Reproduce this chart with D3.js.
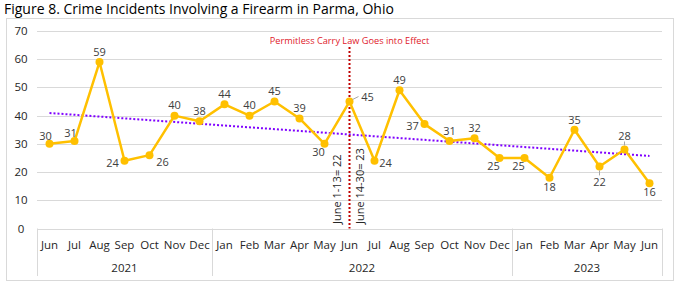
<!DOCTYPE html>
<html>
<head>
<meta charset="utf-8">
<script src="https://cdn.jsdelivr.net/npm/d3@7"></script>
<style>
	body { margin: 0; background: #fff; }
	text { font-family: "Segoe UI", "Open Sans", sans-serif; }
</style>
</head>
<body>
<div id="chart"></div>
<script>
const width = 679, height = 285;

// data
const months = ["Jun", "Jul", "Aug", "Sep", "Oct", "Nov", "Dec",
	"Jan", "Feb", "Mar", "Apr", "May", "Jun", "Jul", "Aug", "Sep", "Oct", "Nov", "Dec",
	"Jan", "Feb", "Mar", "Apr", "May", "Jun"];
const years = ["2021", "2022", "2023"];
const monthsPerYear = [7, 12, 6];
const incidents = [30, 31, 59, 24, 26, 40, 38, 44, 40, 45, 39, 30, 45, 24, 49, 37, 31, 32, 25, 25, 18, 35, 22, 28, 16];
const yTicks = [0, 10, 20, 30, 40, 50, 60, 70];
const lawMonth = 12;
const lawText = "Permitless Carry Law Goes into Effect";
const splitLabels = ["June 1-13= 22", "June 14-30= 23"];

// where each value label sits relative to its point
const labelPlace = ["tl", "tl", "t", "l", "br", "t", "t", "t", "t", "t", "t", "bl", "rl", "r", "t", "l", "t", "t",
	"bl", "bl", "b", "t", "bb", "tt", "b"];
const offsets = {
	t: [0, -10], tl: [-4, -8], b: [0, 9], bl: [-6, 8], l: [-12, 2], r: [11, 2],
	br: [13, 7], rl: [18, -4], bb: [0, 16], tt: [0, -13]
};

const svg = d3.select("#chart")
	.append("svg")
	.attr("width", width)
	.attr("height", height);

// title
svg.append("text")
	.attr("x", 4)
	.attr("y", 14)
	.attr("font-size", 14)
	.attr("fill", "#000")
	.text("Figure 8. Crime Incidents Involving a Firearm in Parma, Ohio");

// outer frame
svg.append("rect")
	.attr("x", 6.5)
	.attr("y", 18.5)
	.attr("width", 667)
	.attr("height", 262)
	.attr("fill", "none")
	.attr("stroke", "#d9d9d9");

const x = d3.scaleBand()
	.domain(d3.range(months.length))
	.range([37, 662]);

const y = d3.scaleLinear()
	.domain([0, 70])
	.range([228.5, 31]);

const cx = (i) => x(i) + x.bandwidth() / 2;

// gridlines
svg.selectAll(".grid")
	.data(yTicks)
	.enter()
	.append("line")
	.classed("grid", true)
	.attr("x1", 37)
	.attr("x2", 662)
	.attr("y1", (d) => Math.round(y(d)) + 0.5)
	.attr("y2", (d) => Math.round(y(d)) + 0.5)
	.attr("stroke", "#d9d9d9");

// y tick labels
svg.selectAll(".ylab")
	.data(yTicks)
	.enter()
	.append("text")
	.classed("ylab", true)
	.attr("x", 21)
	.attr("y", (d) => y(d))
	.attr("dy", "0.35em")
	.attr("text-anchor", "middle")
	.attr("font-size", 11.5)
	.attr("fill", "#262626")
	.text((d) => d);

// category axis: month row and year row
const axis_g = svg.append("g");
axis_g.selectAll(".mlab")
	.data(months)
	.enter()
	.append("text")
	.classed("mlab", true)
	.attr("x", (d, i) => cx(i))
	.attr("y", 245)
	.attr("dy", "0.35em")
	.attr("text-anchor", "middle")
	.attr("font-size", 11.5)
	.attr("fill", "#262626")
	.text((d) => d);

const yearStart = d3.cumsum([0].concat(monthsPerYear));
axis_g.selectAll(".ylabel")
	.data(years)
	.enter()
	.append("text")
	.classed("ylabel", true)
	.attr("x", (d, i) => (x(yearStart[i]) + x(yearStart[i + 1] - 1) + x.bandwidth()) / 2)
	.attr("y", 268)
	.attr("dy", "0.35em")
	.attr("text-anchor", "middle")
	.attr("font-size", 11.5)
	.attr("fill", "#262626")
	.text((d) => d);

// separators between years
axis_g.selectAll(".sep")
	.data(yearStart)
	.enter()
	.append("line")
	.classed("sep", true)
	.attr("x1", (d) => (d < months.length ? x(d) : x(months.length - 1) + x.bandwidth()) + 0.5)
	.attr("x2", (d) => (d < months.length ? x(d) : x(months.length - 1) + x.bandwidth()) + 0.5)
	.attr("y1", y(0))
	.attr("y2", 276)
	.attr("stroke", "#d9d9d9");

// trend line (least squares over the series)
const idx = d3.range(incidents.length);
const mx = d3.mean(idx), my = d3.mean(incidents);
const slope = d3.sum(idx, (i) => (i - mx) * (incidents[i] - my)) / d3.sum(idx, (i) => (i - mx) * (i - mx));
const icpt = my - slope * mx;
svg.append("line")
	.attr("x1", cx(0))
	.attr("y1", y(icpt))
	.attr("x2", cx(incidents.length - 1))
	.attr("y2", y(icpt + slope * (incidents.length - 1)))
	.attr("stroke", "#7f00ff")
	.attr("stroke-width", 2)
	.attr("stroke-dasharray", "2,2");

// law change marker
svg.append("line")
	.attr("x1", cx(lawMonth))
	.attr("x2", cx(lawMonth))
	.attr("y1", 47)
	.attr("y2", y(0))
	.attr("stroke", "#c00000")
	.attr("stroke-width", 2)
	.attr("stroke-dasharray", "2,2");

svg.append("text")
	.attr("x", cx(lawMonth))
	.attr("y", 41)
	.attr("dy", "0.35em")
	.attr("text-anchor", "middle")
	.attr("font-size", 9.2)
	.attr("fill", "#e0202a")
	.text(lawText);

svg.selectAll(".split")
	.data(splitLabels)
	.enter()
	.append("text")
	.classed("split", true)
	.attr("transform", (d, i) => `translate(${cx(lawMonth) + (i === 0 ? -12 : 11)},224) rotate(-90)`)
	.attr("dy", "0.35em")
	.attr("font-size", 11)
	.attr("fill", "#262626")
	.text((d) => d);

// data line
svg.append("path")
	.datum(incidents)
	.attr("d", d3.line().x((d, i) => cx(i)).y((d) => y(d)))
	.attr("fill", "none")
	.attr("stroke", "#ffc000")
	.attr("stroke-width", 2.5)
	.attr("stroke-linejoin", "round");

svg.selectAll(".pt")
	.data(incidents)
	.enter()
	.append("circle")
	.classed("pt", true)
	.attr("cx", (d, i) => cx(i))
	.attr("cy", (d) => y(d))
	.attr("r", 4)
	.attr("fill", "#ffc000");

// leader lines for labels pushed away from their points
const leaders = { rl: [[3, -2], [9, -5]], bb: [[0, 4], [0, 9]], tt: [[0, -4], [0, -8]] };
incidents.forEach((d, i) => {
	const l = leaders[labelPlace[i]];
	if (!l) return;
	svg.append("polyline")
		.attr("points", l.map((p) => [cx(i) + p[0], y(d) + p[1]].join(",")).join(" "))
		.attr("fill", "none")
		.attr("stroke", "#a6a6a6")
		.attr("stroke-width", 1);
});

svg.selectAll(".vlab")
	.data(incidents)
	.enter()
	.append("text")
	.classed("vlab", true)
	.attr("x", (d, i) => cx(i) + offsets[labelPlace[i]][0])
	.attr("y", (d, i) => y(d) + offsets[labelPlace[i]][1])
	.attr("dy", "0.35em")
	.attr("text-anchor", "middle")
	.attr("font-size", 11)
	.attr("fill", "#404040")
	.text((d) => d);
</script>
</body>
</html>
